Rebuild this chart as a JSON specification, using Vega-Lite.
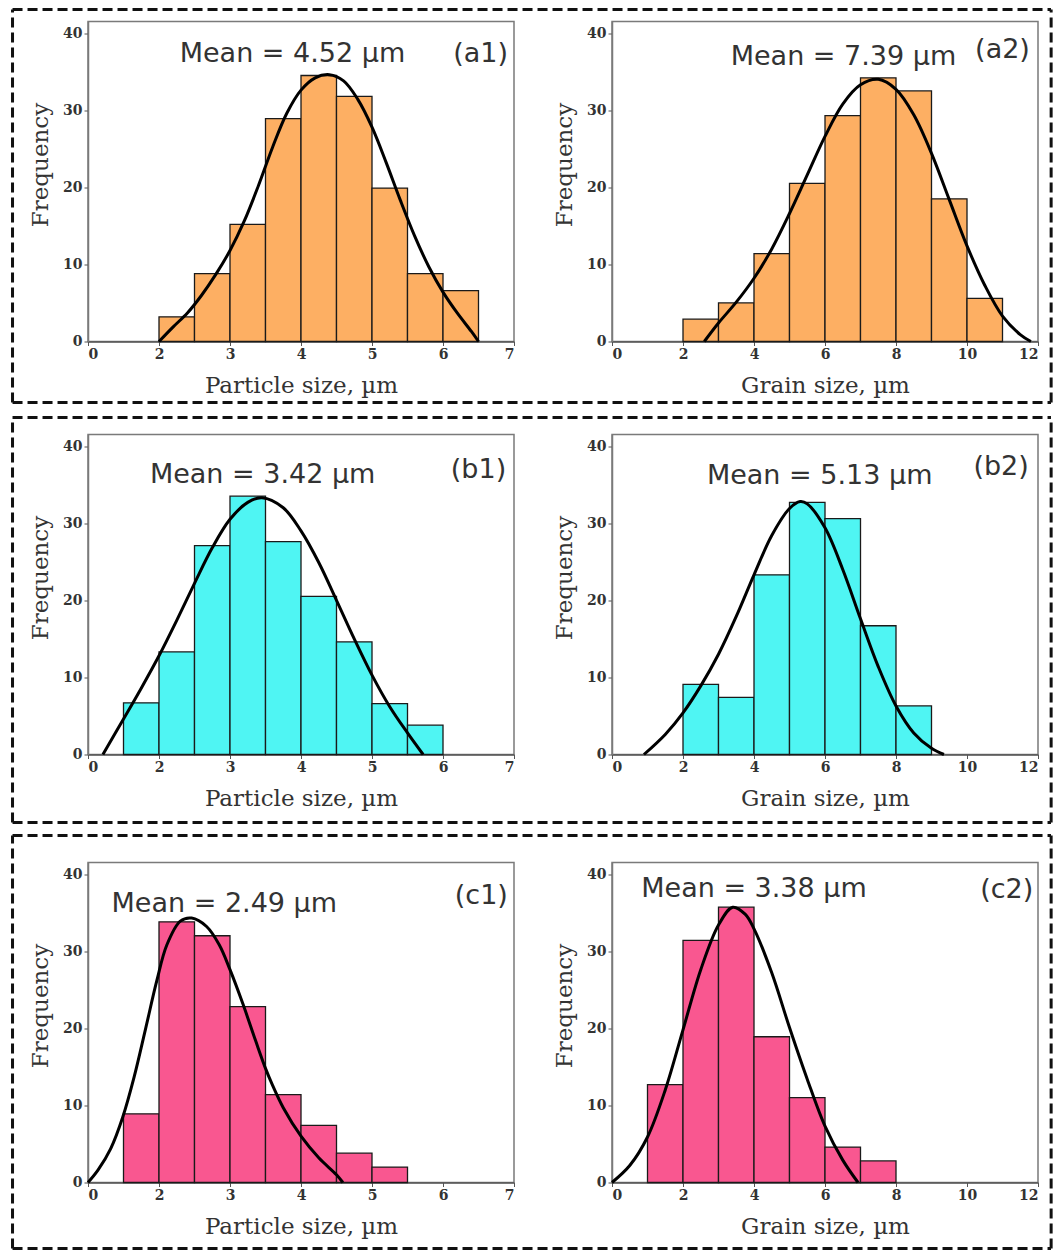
{
"$schema": "https://vega.github.io/schema/vega-lite/v6.json",
"padding": {"left": 10, "top": 6.5, "right": 0, "bottom": 0},
"datasets": {
"bars": [
{"p":"a1","lo":2,"hi":2.5,"n":3.2},{"p":"a1","lo":2.5,"hi":3,"n":8.8},{"p":"a1","lo":3,"hi":3.5,"n":15.2},{"p":"a1","lo":3.5,"hi":4,"n":28.9},{"p":"a1","lo":4,"hi":4.5,"n":34.5},{"p":"a1","lo":4.5,"hi":5,"n":31.8},{"p":"a1","lo":5,"hi":5.5,"n":19.9},{"p":"a1","lo":5.5,"hi":6,"n":8.8},{"p":"a1","lo":6,"hi":6.5,"n":6.6},
{"p":"a2","lo":2,"hi":3,"n":2.9},{"p":"a2","lo":3,"hi":4,"n":5.0},{"p":"a2","lo":4,"hi":5,"n":11.4},{"p":"a2","lo":5,"hi":6,"n":20.5},{"p":"a2","lo":6,"hi":7,"n":29.3},{"p":"a2","lo":7,"hi":8,"n":34.2},{"p":"a2","lo":8,"hi":9,"n":32.5},{"p":"a2","lo":9,"hi":10,"n":18.5},{"p":"a2","lo":10,"hi":11,"n":5.6},
{"p":"b1","lo":1.5,"hi":2,"n":6.7},{"p":"b1","lo":2,"hi":2.5,"n":13.3},{"p":"b1","lo":2.5,"hi":3,"n":27.1},{"p":"b1","lo":3,"hi":3.5,"n":33.5},{"p":"b1","lo":3.5,"hi":4,"n":27.6},{"p":"b1","lo":4,"hi":4.5,"n":20.5},{"p":"b1","lo":4.5,"hi":5,"n":14.6},{"p":"b1","lo":5,"hi":5.5,"n":6.6},{"p":"b1","lo":5.5,"hi":6,"n":3.8},
{"p":"b2","lo":2,"hi":3,"n":9.1},{"p":"b2","lo":3,"hi":4,"n":7.4},{"p":"b2","lo":4,"hi":5,"n":23.3},{"p":"b2","lo":5,"hi":6,"n":32.7},{"p":"b2","lo":6,"hi":7,"n":30.6},{"p":"b2","lo":7,"hi":8,"n":16.7},{"p":"b2","lo":8,"hi":9,"n":6.3},
{"p":"c1","lo":1.5,"hi":2,"n":8.9},{"p":"c1","lo":2,"hi":2.5,"n":33.8},{"p":"c1","lo":2.5,"hi":3,"n":32.0},{"p":"c1","lo":3,"hi":3.5,"n":22.8},{"p":"c1","lo":3.5,"hi":4,"n":11.4},{"p":"c1","lo":4,"hi":4.5,"n":7.4},{"p":"c1","lo":4.5,"hi":5,"n":3.8},{"p":"c1","lo":5,"hi":5.5,"n":2.0},
{"p":"c2","lo":1,"hi":2,"n":12.7},{"p":"c2","lo":2,"hi":3,"n":31.4},{"p":"c2","lo":3,"hi":4,"n":35.7},{"p":"c2","lo":4,"hi":5,"n":18.9},{"p":"c2","lo":5,"hi":6,"n":11.0},{"p":"c2","lo":6,"hi":7,"n":4.6},{"p":"c2","lo":7,"hi":8,"n":2.8}
],
"fits": [
{"p":"a1","lo":2,"n":0},{"p":"a1","lo":2.2,"n":1.9},{"p":"a1","lo":2.4,"n":3.7},{"p":"a1","lo":2.6,"n":6.0},{"p":"a1","lo":2.8,"n":8.7},{"p":"a1","lo":3,"n":11.8},{"p":"a1","lo":3.2,"n":15.6},{"p":"a1","lo":3.4,"n":20.2},{"p":"a1","lo":3.6,"n":25.2},{"p":"a1","lo":3.8,"n":29.6},{"p":"a1","lo":4,"n":32.6},{"p":"a1","lo":4.2,"n":34.2},{"p":"a1","lo":4.4,"n":34.6},{"p":"a1","lo":4.6,"n":33.8},{"p":"a1","lo":4.8,"n":31.4},{"p":"a1","lo":5,"n":27.8},{"p":"a1","lo":5.2,"n":23.2},{"p":"a1","lo":5.4,"n":18.3},{"p":"a1","lo":5.6,"n":13.7},{"p":"a1","lo":5.8,"n":9.7},{"p":"a1","lo":6,"n":6.4},{"p":"a1","lo":6.2,"n":3.7},{"p":"a1","lo":6.4,"n":1.3},{"p":"a1","lo":6.5,"n":0},
{"p":"a2","lo":2.6,"n":0},{"p":"a2","lo":3,"n":2.4},{"p":"a2","lo":3.5,"n":5.1},{"p":"a2","lo":4,"n":8.2},{"p":"a2","lo":4.5,"n":12.0},{"p":"a2","lo":5,"n":16.6},{"p":"a2","lo":5.5,"n":21.6},{"p":"a2","lo":6,"n":26.6},{"p":"a2","lo":6.5,"n":30.8},{"p":"a2","lo":7,"n":33.3},{"p":"a2","lo":7.5,"n":34.0},{"p":"a2","lo":8,"n":32.7},{"p":"a2","lo":8.5,"n":29.4},{"p":"a2","lo":9,"n":24.4},{"p":"a2","lo":9.5,"n":18.4},{"p":"a2","lo":10,"n":12.4},{"p":"a2","lo":10.5,"n":7.3},{"p":"a2","lo":11,"n":3.3},{"p":"a2","lo":11.5,"n":0.9},{"p":"a2","lo":11.8,"n":0},
{"p":"b1","lo":1.21,"n":0},{"p":"b1","lo":1.5,"n":4.6},{"p":"b1","lo":1.75,"n":8.6},{"p":"b1","lo":2,"n":12.8},{"p":"b1","lo":2.25,"n":17.4},{"p":"b1","lo":2.5,"n":22.2},{"p":"b1","lo":2.75,"n":26.8},{"p":"b1","lo":3,"n":30.5},{"p":"b1","lo":3.25,"n":32.7},{"p":"b1","lo":3.45,"n":33.3},{"p":"b1","lo":3.75,"n":32.0},{"p":"b1","lo":4,"n":29.0},{"p":"b1","lo":4.25,"n":24.9},{"p":"b1","lo":4.5,"n":20.0},{"p":"b1","lo":4.75,"n":15.0},{"p":"b1","lo":5,"n":10.3},{"p":"b1","lo":5.25,"n":6.2},{"p":"b1","lo":5.5,"n":2.8},{"p":"b1","lo":5.72,"n":0},
{"p":"b2","lo":0.9,"n":0},{"p":"b2","lo":1.5,"n":2.6},{"p":"b2","lo":2,"n":5.4},{"p":"b2","lo":2.5,"n":8.9},{"p":"b2","lo":3,"n":13.0},{"p":"b2","lo":3.5,"n":17.9},{"p":"b2","lo":4,"n":23.3},{"p":"b2","lo":4.5,"n":28.4},{"p":"b2","lo":5,"n":31.9},{"p":"b2","lo":5.3,"n":32.8},{"p":"b2","lo":5.5,"n":32.5},{"p":"b2","lo":6,"n":29.4},{"p":"b2","lo":6.5,"n":24.0},{"p":"b2","lo":7,"n":17.6},{"p":"b2","lo":7.5,"n":11.4},{"p":"b2","lo":8,"n":6.3},{"p":"b2","lo":8.5,"n":2.8},{"p":"b2","lo":9,"n":0.8},{"p":"b2","lo":9.35,"n":0},
{"p":"c1","lo":1,"n":0},{"p":"c1","lo":1.14,"n":1.6},{"p":"c1","lo":1.32,"n":4.4},{"p":"c1","lo":1.49,"n":8.5},{"p":"c1","lo":1.65,"n":13.7},{"p":"c1","lo":1.81,"n":19.9},{"p":"c1","lo":1.97,"n":26.2},{"p":"c1","lo":2.11,"n":30.8},{"p":"c1","lo":2.3,"n":33.9},{"p":"c1","lo":2.46,"n":34.3},{"p":"c1","lo":2.67,"n":33.2},{"p":"c1","lo":2.85,"n":30.8},{"p":"c1","lo":3,"n":27.6},{"p":"c1","lo":3.18,"n":23.2},{"p":"c1","lo":3.36,"n":18.4},{"p":"c1","lo":3.5,"n":14.8},{"p":"c1","lo":3.6,"n":12.6},{"p":"c1","lo":3.75,"n":9.7},{"p":"c1","lo":4,"n":6.0},{"p":"c1","lo":4.25,"n":3.2},{"p":"c1","lo":4.5,"n":1.0},{"p":"c1","lo":4.59,"n":0},
{"p":"c2","lo":0,"n":0},{"p":"c2","lo":0.5,"n":2.2},{"p":"c2","lo":1,"n":5.9},{"p":"c2","lo":1.5,"n":12.0},{"p":"c2","lo":2,"n":19.8},{"p":"c2","lo":2.5,"n":27.6},{"p":"c2","lo":3,"n":33.4},{"p":"c2","lo":3.4,"n":35.7},{"p":"c2","lo":3.75,"n":34.8},{"p":"c2","lo":4,"n":32.9},{"p":"c2","lo":4.5,"n":27.2},{"p":"c2","lo":5,"n":20.1},{"p":"c2","lo":5.5,"n":13.4},{"p":"c2","lo":6,"n":7.3},{"p":"c2","lo":6.5,"n":2.9},{"p":"c2","lo":6.93,"n":0}
],
"notes": [
{"p":"a1","mean":"Mean = 4.52 µm","tag":"(a1)"},
{"p":"a2","mean":"Mean = 7.39 µm","tag":"(a2)"},
{"p":"b1","mean":"Mean = 3.42 µm","tag":"(b1)"},
{"p":"b2","mean":"Mean = 5.13 µm","tag":"(b2)"},
{"p":"c1","mean":"Mean = 2.49 µm","tag":"(c1)"},
{"p":"c2","mean":"Mean = 3.38 µm","tag":"(c2)"}
]
},
"vconcat": [
{"hconcat": [
{"width": 426, "height": 320,
"layer": [
{"data": {"name": "bars"}, "transform": [{"filter": "datum.p == 'a1'"}], "mark": {"type": "rect", "fill": "#FDAF63", "stroke": "#1a1a1a", "strokeWidth": 1.3},
 "encoding": {"x": {"field": "lo", "type": "quantitative", "title": "Particle size, µm", "scale": {"domain": [1, 7], "nice": false, "zero": false}, "axis": {"values": [1,2,3,4,5,6,7], "format": "d", "labelExpr": "datum.value == 1 ? '0' : datum.label"}}, "x2": {"field": "hi"},
 "y": {"field": "n", "type": "quantitative", "title": "Frequency", "scale": {"domain": [0, 41.5], "nice": false}, "axis": {"values": [0,10,20,30,40], "titleY": 143}}, "y2": {"datum": 0}}},
{"data": {"name": "fits"}, "transform": [{"filter": "datum.p == 'a1'"}], "mark": {"type": "line", "color": "#000", "strokeWidth": 3, "interpolate": "catmull-rom"}, "encoding": {"x": {"field": "lo", "type": "quantitative", "title": "Particle size, µm"}, "y": {"field": "n", "type": "quantitative", "title": "Frequency"}}},
{"data": {"name": "notes"}, "transform": [{"filter": "datum.p == 'a1'"}], "mark": {"type": "text"}, "encoding": {"x": {"datum": 3.88, "type": "quantitative", "title": "Particle size, µm"}, "y": {"datum": 37.3, "type": "quantitative", "title": "Frequency"}, "text": {"field": "mean"}}},
{"data": {"name": "notes"}, "transform": [{"filter": "datum.p == 'a1'"}], "mark": {"type": "text"}, "encoding": {"x": {"datum": 6.53, "type": "quantitative", "title": "Particle size, µm"}, "y": {"datum": 37.3, "type": "quantitative", "title": "Frequency"}, "text": {"field": "tag"}}},
{"data": {"name": "notes"}, "transform": [{"filter": "datum.p == 'a1'"}], "mark": {"type": "rule", "color": "#111", "strokeWidth": 3, "strokeDash": [10, 5]}, "encoding": {"x": {"datum": -0.063, "type": "quantitative", "title": "Particle size, µm"}, "x2": {"datum": 14.563}, "y": {"datum": 43.056, "type": "quantitative", "title": "Frequency"}}},
{"data": {"name": "notes"}, "transform": [{"filter": "datum.p == 'a1'"}], "mark": {"type": "rule", "color": "#111", "strokeWidth": 3, "strokeDash": [10, 5]}, "encoding": {"x": {"datum": -0.063, "type": "quantitative", "title": "Particle size, µm"}, "x2": {"datum": 14.563}, "y": {"datum": -7.911, "type": "quantitative", "title": "Frequency"}}},
{"data": {"name": "notes"}, "transform": [{"filter": "datum.p == 'a1'"}], "mark": {"type": "rule", "color": "#111", "strokeWidth": 3, "strokeDash": [10, 5]}, "encoding": {"x": {"datum": -0.063, "type": "quantitative", "title": "Particle size, µm"}, "y": {"datum": -7.911, "type": "quantitative", "title": "Frequency"}, "y2": {"datum": 43.056}}}
]},
{"width": 426, "height": 320,
"layer": [
{"data": {"name": "bars"}, "transform": [{"filter": "datum.p == 'a2'"}], "mark": {"type": "rect", "fill": "#FDAF63", "stroke": "#1a1a1a", "strokeWidth": 1.3},
 "encoding": {"x": {"field": "lo", "type": "quantitative", "title": "Grain size, µm", "scale": {"domain": [0, 12], "nice": false, "zero": false}, "axis": {"values": [0,2,4,6,8,10,12]}}, "x2": {"field": "hi"},
 "y": {"field": "n", "type": "quantitative", "title": "Frequency", "scale": {"domain": [0, 41.5], "nice": false}, "axis": {"values": [0,10,20,30,40], "titleY": 143}}, "y2": {"datum": 0}}},
{"data": {"name": "fits"}, "transform": [{"filter": "datum.p == 'a2'"}], "mark": {"type": "line", "color": "#000", "strokeWidth": 3, "interpolate": "catmull-rom"}, "encoding": {"x": {"field": "lo", "type": "quantitative", "title": "Grain size, µm"}, "y": {"field": "n", "type": "quantitative", "title": "Frequency"}}},
{"data": {"name": "notes"}, "transform": [{"filter": "datum.p == 'a2'"}], "mark": {"type": "text"}, "encoding": {"x": {"datum": 6.52, "type": "quantitative", "title": "Grain size, µm"}, "y": {"datum": 36.9, "type": "quantitative", "title": "Frequency"}, "text": {"field": "mean"}}},
{"data": {"name": "notes"}, "transform": [{"filter": "datum.p == 'a2'"}], "mark": {"type": "text"}, "encoding": {"x": {"datum": 11.0, "type": "quantitative", "title": "Grain size, µm"}, "y": {"datum": 37.8, "type": "quantitative", "title": "Frequency"}, "text": {"field": "tag"}}},
{"data": {"name": "notes"}, "transform": [{"filter": "datum.p == 'a2'"}], "mark": {"type": "rule", "color": "#111", "strokeWidth": 3, "strokeDash": [10, 5]}, "encoding": {"x": {"datum": 12.37, "type": "quantitative", "title": "Grain size, µm"}, "y": {"datum": -7.911, "type": "quantitative", "title": "Frequency"}, "y2": {"datum": 43.056}}}
]}
], "spacing": 98, "bounds": "flush"},
{"vconcat": [
{"hconcat": [
{"width": 426, "height": 320,
"layer": [
{"data": {"name": "bars"}, "transform": [{"filter": "datum.p == 'b1'"}], "mark": {"type": "rect", "fill": "#4FF5F3", "stroke": "#1a1a1a", "strokeWidth": 1.3},
 "encoding": {"x": {"field": "lo", "type": "quantitative", "title": "Particle size, µm", "scale": {"domain": [1, 7], "nice": false, "zero": false}, "axis": {"values": [1,2,3,4,5,6,7], "format": "d", "labelExpr": "datum.value == 1 ? '0' : datum.label"}}, "x2": {"field": "hi"},
 "y": {"field": "n", "type": "quantitative", "title": "Frequency", "scale": {"domain": [0, 41.5], "nice": false}, "axis": {"values": [0,10,20,30,40], "titleY": 143}}, "y2": {"datum": 0}}},
{"data": {"name": "fits"}, "transform": [{"filter": "datum.p == 'b1'"}], "mark": {"type": "line", "color": "#000", "strokeWidth": 3, "interpolate": "catmull-rom"}, "encoding": {"x": {"field": "lo", "type": "quantitative", "title": "Particle size, µm"}, "y": {"field": "n", "type": "quantitative", "title": "Frequency"}}},
{"data": {"name": "notes"}, "transform": [{"filter": "datum.p == 'b1'"}], "mark": {"type": "text"}, "encoding": {"x": {"datum": 3.46, "type": "quantitative", "title": "Particle size, µm"}, "y": {"datum": 36.3, "type": "quantitative", "title": "Frequency"}, "text": {"field": "mean"}}},
{"data": {"name": "notes"}, "transform": [{"filter": "datum.p == 'b1'"}], "mark": {"type": "text"}, "encoding": {"x": {"datum": 6.5, "type": "quantitative", "title": "Particle size, µm"}, "y": {"datum": 36.9, "type": "quantitative", "title": "Frequency"}, "text": {"field": "tag"}}},
{"data": {"name": "notes"}, "transform": [{"filter": "datum.p == 'b1'"}], "mark": {"type": "rule", "color": "#111", "strokeWidth": 3, "strokeDash": [10, 5]}, "encoding": {"x": {"datum": -0.063, "type": "quantitative", "title": "Particle size, µm"}, "x2": {"datum": 14.563}, "y": {"datum": 43.705, "type": "quantitative", "title": "Frequency"}}},
{"data": {"name": "notes"}, "transform": [{"filter": "datum.p == 'b1'"}], "mark": {"type": "rule", "color": "#111", "strokeWidth": 3, "strokeDash": [10, 5]}, "encoding": {"x": {"datum": -0.063, "type": "quantitative", "title": "Particle size, µm"}, "x2": {"datum": 14.563}, "y": {"datum": -8.819, "type": "quantitative", "title": "Frequency"}}},
{"data": {"name": "notes"}, "transform": [{"filter": "datum.p == 'b1'"}], "mark": {"type": "rule", "color": "#111", "strokeWidth": 3, "strokeDash": [10, 5]}, "encoding": {"x": {"datum": -0.063, "type": "quantitative", "title": "Particle size, µm"}, "y": {"datum": -8.819, "type": "quantitative", "title": "Frequency"}, "y2": {"datum": 43.705}}}
]},
{"width": 426, "height": 320,
"layer": [
{"data": {"name": "bars"}, "transform": [{"filter": "datum.p == 'b2'"}], "mark": {"type": "rect", "fill": "#4FF5F3", "stroke": "#1a1a1a", "strokeWidth": 1.3},
 "encoding": {"x": {"field": "lo", "type": "quantitative", "title": "Grain size, µm", "scale": {"domain": [0, 12], "nice": false, "zero": false}, "axis": {"values": [0,2,4,6,8,10,12]}}, "x2": {"field": "hi"},
 "y": {"field": "n", "type": "quantitative", "title": "Frequency", "scale": {"domain": [0, 41.5], "nice": false}, "axis": {"values": [0,10,20,30,40], "titleY": 143}}, "y2": {"datum": 0}}},
{"data": {"name": "fits"}, "transform": [{"filter": "datum.p == 'b2'"}], "mark": {"type": "line", "color": "#000", "strokeWidth": 3, "interpolate": "catmull-rom"}, "encoding": {"x": {"field": "lo", "type": "quantitative", "title": "Grain size, µm"}, "y": {"field": "n", "type": "quantitative", "title": "Frequency"}}},
{"data": {"name": "notes"}, "transform": [{"filter": "datum.p == 'b2'"}], "mark": {"type": "text"}, "encoding": {"x": {"datum": 5.85, "type": "quantitative", "title": "Grain size, µm"}, "y": {"datum": 36.1, "type": "quantitative", "title": "Frequency"}, "text": {"field": "mean"}}},
{"data": {"name": "notes"}, "transform": [{"filter": "datum.p == 'b2'"}], "mark": {"type": "text"}, "encoding": {"x": {"datum": 10.96, "type": "quantitative", "title": "Grain size, µm"}, "y": {"datum": 37.3, "type": "quantitative", "title": "Frequency"}, "text": {"field": "tag"}}},
{"data": {"name": "notes"}, "transform": [{"filter": "datum.p == 'b2'"}], "mark": {"type": "rule", "color": "#111", "strokeWidth": 3, "strokeDash": [10, 5]}, "encoding": {"x": {"datum": 12.37, "type": "quantitative", "title": "Grain size, µm"}, "y": {"datum": -8.819, "type": "quantitative", "title": "Frequency"}, "y2": {"datum": 43.705}}}
]}
], "spacing": 98, "bounds": "flush"},
{"hconcat": [
{"width": 426, "height": 320,
"layer": [
{"data": {"name": "bars"}, "transform": [{"filter": "datum.p == 'c1'"}], "mark": {"type": "rect", "fill": "#F95790", "stroke": "#1a1a1a", "strokeWidth": 1.3},
 "encoding": {"x": {"field": "lo", "type": "quantitative", "title": "Particle size, µm", "scale": {"domain": [1, 7], "nice": false, "zero": false}, "axis": {"values": [1,2,3,4,5,6,7], "format": "d", "labelExpr": "datum.value == 1 ? '0' : datum.label"}}, "x2": {"field": "hi"},
 "y": {"field": "n", "type": "quantitative", "title": "Frequency", "scale": {"domain": [0, 41.5], "nice": false}, "axis": {"values": [0,10,20,30,40], "titleY": 143}}, "y2": {"datum": 0}}},
{"data": {"name": "fits"}, "transform": [{"filter": "datum.p == 'c1'"}], "mark": {"type": "line", "color": "#000", "strokeWidth": 3, "interpolate": "catmull-rom"}, "encoding": {"x": {"field": "lo", "type": "quantitative", "title": "Particle size, µm"}, "y": {"field": "n", "type": "quantitative", "title": "Frequency"}}},
{"data": {"name": "notes"}, "transform": [{"filter": "datum.p == 'c1'"}], "mark": {"type": "text"}, "encoding": {"x": {"datum": 2.92, "type": "quantitative", "title": "Particle size, µm"}, "y": {"datum": 36.1, "type": "quantitative", "title": "Frequency"}, "text": {"field": "mean"}}},
{"data": {"name": "notes"}, "transform": [{"filter": "datum.p == 'c1'"}], "mark": {"type": "text"}, "encoding": {"x": {"datum": 6.54, "type": "quantitative", "title": "Particle size, µm"}, "y": {"datum": 37.2, "type": "quantitative", "title": "Frequency"}, "text": {"field": "tag"}}},
{"data": {"name": "notes"}, "transform": [{"filter": "datum.p == 'c1'"}], "mark": {"type": "rule", "color": "#111", "strokeWidth": 3, "strokeDash": [10, 5]}, "encoding": {"x": {"datum": -0.063, "type": "quantitative", "title": "Particle size, µm"}, "x2": {"datum": 14.563}, "y": {"datum": 45.0, "type": "quantitative", "title": "Frequency"}}},
{"data": {"name": "notes"}, "transform": [{"filter": "datum.p == 'c1'"}], "mark": {"type": "rule", "color": "#111", "strokeWidth": 3, "strokeDash": [10, 5]}, "encoding": {"x": {"datum": -0.063, "type": "quantitative", "title": "Particle size, µm"}, "x2": {"datum": 14.563}, "y": {"datum": -8.56, "type": "quantitative", "title": "Frequency"}}},
{"data": {"name": "notes"}, "transform": [{"filter": "datum.p == 'c1'"}], "mark": {"type": "rule", "color": "#111", "strokeWidth": 3, "strokeDash": [10, 5]}, "encoding": {"x": {"datum": -0.063, "type": "quantitative", "title": "Particle size, µm"}, "y": {"datum": -8.56, "type": "quantitative", "title": "Frequency"}, "y2": {"datum": 45.0}}}
]},
{"width": 426, "height": 320,
"layer": [
{"data": {"name": "bars"}, "transform": [{"filter": "datum.p == 'c2'"}], "mark": {"type": "rect", "fill": "#F95790", "stroke": "#1a1a1a", "strokeWidth": 1.3},
 "encoding": {"x": {"field": "lo", "type": "quantitative", "title": "Grain size, µm", "scale": {"domain": [0, 12], "nice": false, "zero": false}, "axis": {"values": [0,2,4,6,8,10,12]}}, "x2": {"field": "hi"},
 "y": {"field": "n", "type": "quantitative", "title": "Frequency", "scale": {"domain": [0, 41.5], "nice": false}, "axis": {"values": [0,10,20,30,40], "titleY": 143}}, "y2": {"datum": 0}}},
{"data": {"name": "fits"}, "transform": [{"filter": "datum.p == 'c2'"}], "mark": {"type": "line", "color": "#000", "strokeWidth": 3, "interpolate": "catmull-rom"}, "encoding": {"x": {"field": "lo", "type": "quantitative", "title": "Grain size, µm"}, "y": {"field": "n", "type": "quantitative", "title": "Frequency"}}},
{"data": {"name": "notes"}, "transform": [{"filter": "datum.p == 'c2'"}], "mark": {"type": "text"}, "encoding": {"x": {"datum": 4.0, "type": "quantitative", "title": "Grain size, µm"}, "y": {"datum": 38.1, "type": "quantitative", "title": "Frequency"}, "text": {"field": "mean"}}},
{"data": {"name": "notes"}, "transform": [{"filter": "datum.p == 'c2'"}], "mark": {"type": "text"}, "encoding": {"x": {"datum": 11.12, "type": "quantitative", "title": "Grain size, µm"}, "y": {"datum": 37.9, "type": "quantitative", "title": "Frequency"}, "text": {"field": "tag"}}},
{"data": {"name": "notes"}, "transform": [{"filter": "datum.p == 'c2'"}], "mark": {"type": "rule", "color": "#111", "strokeWidth": 3, "strokeDash": [10, 5]}, "encoding": {"x": {"datum": 12.37, "type": "quantitative", "title": "Grain size, µm"}, "y": {"datum": -8.56, "type": "quantitative", "title": "Frequency"}, "y2": {"datum": 45.0}}}
]}
], "spacing": 98, "bounds": "flush"}
], "spacing": 7}
],
"spacing": 9,
"config": {
"view": {"stroke": "#7a7a7a", "strokeWidth": 1.5},
"axis": {"grid": false, "domainColor": "#555", "domainWidth": 1.5, "tickColor": "#555", "tickSize": 4, "labelFont": "DejaVu Serif", "labelFontWeight": "bold", "labelFontSize": 14, "labelColor": "#333", "titleFont": "DejaVu Serif", "titleFontWeight": "normal", "titleFontSize": 23, "titleColor": "#333", "titlePadding": 10},
"axisX": {"titlePadding": 13},
"axisLeft": {"domainColor": "#7a7a7a"},
"text": {"font": "DejaVu Sans", "fontSize": 27, "color": "#333", "align": "center", "baseline": "middle"}
}
}
